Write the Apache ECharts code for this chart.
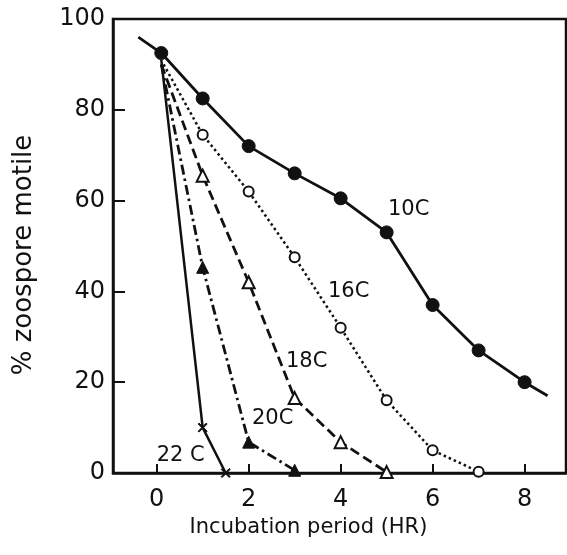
<!DOCTYPE html>
<html>
<head>
<meta charset="utf-8">
<script src="https://cdn.jsdelivr.net/npm/echarts@6/dist/echarts.min.js"></script>
<style>
html, body { margin: 0; padding: 0; background: #fff; }
#main { width: 567px; height: 555px; }
</style>
</head>
<body>
<div id="main"></div>
<script>
// values: incubation hours vs % zoospores motile
var x10 = [-0.4, 0.1, 1, 2, 3, 4, 5, 6, 7, 8, 8.5];
var y10 = [96, 92.5, 82.5, 72, 66, 60.5, 53, 37, 27, 20, 17];
var x16 = [0.15, 1, 2, 3, 4, 5, 6, 7];
var y16 = [90, 74.5, 62, 47.5, 32, 16, 5, 0.3];
var x18 = [0.1, 1, 2, 3, 4, 5];
var y18 = [90, 65.5, 42, 16.5, 6.8, 0.2];
var x20 = [0.1, 1, 2, 3];
var y20 = [90, 45.3, 6.8, 0.6];
var x22 = [0.1, 1, 1.5];
var y22 = [91, 10, 0];
var xTicks = [0, 2, 4, 6, 8];

var ink = '#111';
var font = 'DejaVu Sans';

// points without a marker (line ends only)
function pts(xs, ys, bare) {
    return xs.map(function (x, i) {
        var d = { value: [x, ys[i]] };
        if (bare.indexOf(i) >= 0) d.symbol = 'none';
        return d;
    });
}

function tag(d, text, dx, dy) {
    d.label = {
        show: true, formatter: text, position: 'inside', offset: [dx, dy],
        color: ink, fontFamily: font, fontSize: 21
    };
    return d;
}

var d10 = pts(x10, y10, [0, x10.length - 1]);
var d16 = pts(x16, y16, [0]);
var d18 = pts(x18, y18, [0]);
var d20 = pts(x20, y20, [0]);
var d22 = pts(x22, y22, [0]);
tag(d10[6], '10C', 22, -23);
tag(d16[4], '16C', 8, -36);
tag(d18[3], '18C', 12, -37);
tag(d20[2], '20C', 24, -24);
tag(d22[2], '22 C', -45, -17);

var crossPath = 'path://M0,1L1,0L5,4L9,0L10,1L6,5L10,9L9,10L5,6L1,10L0,9L4,5Z';

var myChart = echarts.init(document.getElementById('main'));
var option = {
    backgroundColor: '#fff',
    animation: false,
    grid: {
        left: 113, right: 1, top: 19, bottom: 82,
        show: true, borderColor: ink, borderWidth: 2.5,
        outerBoundsMode: 'none'
    },
    xAxis: {
        type: 'value', min: -0.95, max: 8.9,
        name: 'Incubation period (HR)',
        nameLocation: 'middle', nameGap: 44,
        nameTextStyle: { color: ink, fontFamily: font, fontSize: 21, padding: [0, 62, 0, 0] },
        axisLine: { show: true, onZero: false, lineStyle: { color: ink, width: 2.5 } },
        axisTick: { show: true, inside: true, length: 9, customValues: xTicks, lineStyle: { color: ink, width: 2 } },
        axisLabel: { customValues: xTicks, color: ink, fontFamily: font, fontSize: 24, margin: 15 },
        splitLine: { show: false }
    },
    yAxis: {
        type: 'value', min: 0, max: 100, interval: 20,
        name: '% zoospore motile',
        nameLocation: 'middle', nameGap: 76,
        nameTextStyle: { color: ink, fontFamily: font, fontSize: 26, padding: [0, 18, 0, 0] },
        axisLine: { show: true, onZero: false, lineStyle: { color: ink, width: 2.5 } },
        axisTick: { show: true, inside: true, length: 12, lineStyle: { color: ink, width: 2 } },
        axisLabel: { color: ink, fontFamily: font, fontSize: 24, margin: 8 },
        splitLine: { show: false }
    },
    series: [
        {
            name: '10C', type: 'line', data: d10,
            symbol: 'circle', symbolSize: 13,
            lineStyle: { color: ink, width: 2.8 },
            itemStyle: { color: ink, borderColor: ink }
        },
        {
            name: '16C', type: 'line', data: d16,
            symbol: 'circle', symbolSize: 10,
            lineStyle: { color: ink, width: 2.5, type: [2.5, 3] },
            itemStyle: { color: '#fff', borderColor: ink, borderWidth: 2 }
        },
        {
            name: '18C', type: 'line', data: d18,
            symbol: 'triangle', symbolSize: 12,
            lineStyle: { color: ink, width: 2.8, type: [10, 5] },
            itemStyle: { color: '#fff', borderColor: ink, borderWidth: 2 }
        },
        {
            name: '20C', type: 'line', data: d20,
            symbol: 'triangle', symbolSize: 12,
            lineStyle: { color: ink, width: 2.8, type: [10, 4, 2.5, 4] },
            itemStyle: { color: ink, borderColor: ink }
        },
        {
            name: '22C', type: 'line', data: d22,
            symbol: crossPath, symbolSize: 9,
            lineStyle: { color: ink, width: 2.5 },
            itemStyle: { color: ink, borderColor: ink }
        }
    ]
};
myChart.setOption(option);
</script>
</body>
</html>
